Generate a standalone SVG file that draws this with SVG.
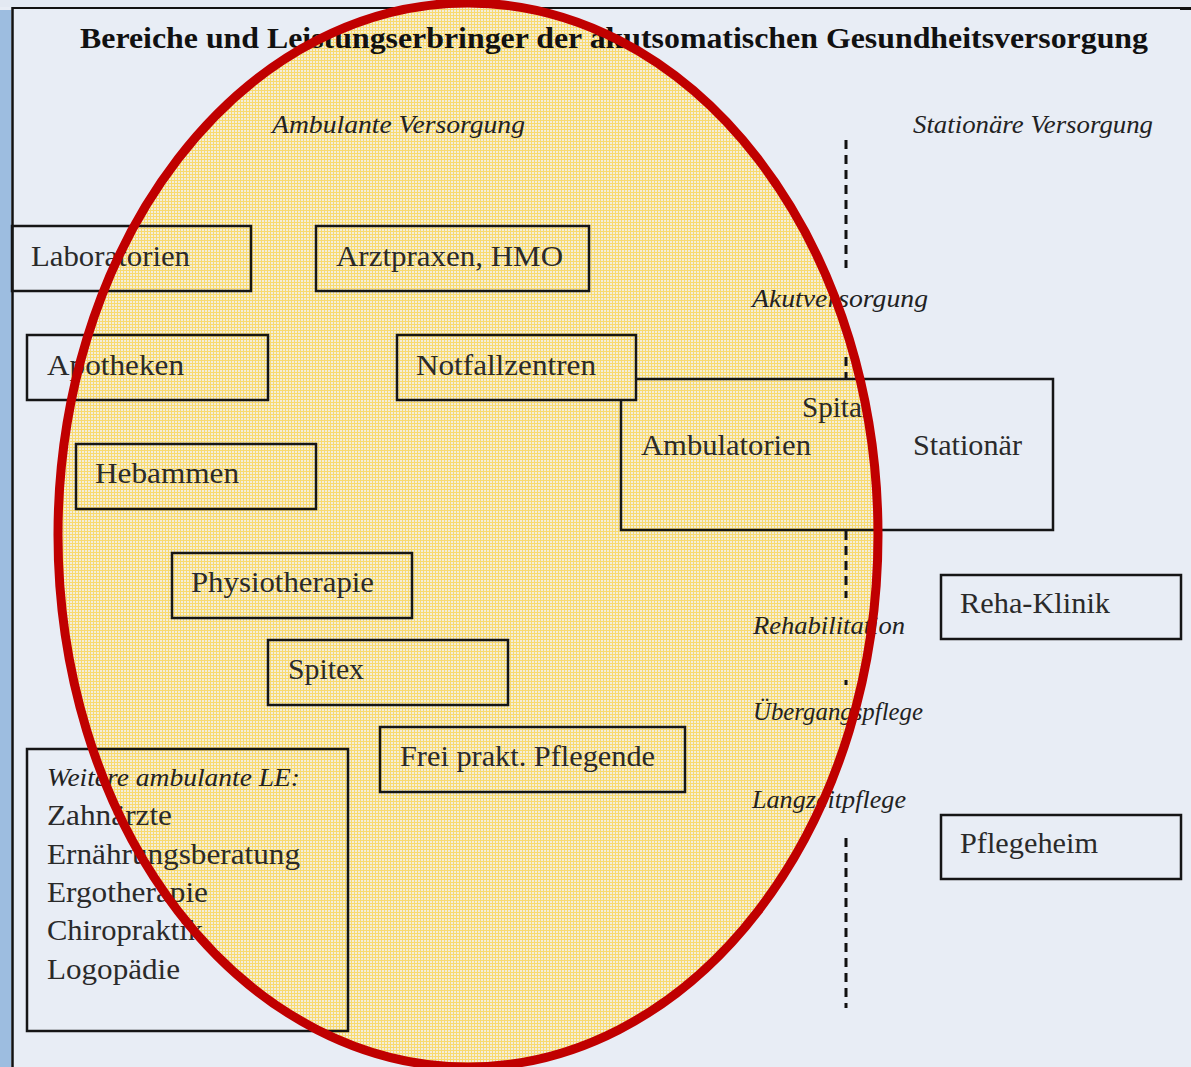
<svg xmlns="http://www.w3.org/2000/svg" width="1191" height="1067" viewBox="0 0 1191 1067">
<style>
.box{fill:none;stroke:#151515;stroke-width:2.5}
.t{font-family:'Liberation Serif','DejaVu Serif',serif;font-size:29px;fill:#2a2a2a}
.i{font-family:'Liberation Serif','DejaVu Serif',serif;font-style:italic;font-size:26px;fill:#222}
.title{font-family:'Liberation Serif','DejaVu Serif',serif;font-weight:bold;font-size:29px;fill:#111}
.dash{stroke:#111;stroke-width:3;stroke-dasharray:9 6;fill:none}
</style>
<defs>
<pattern id="grid" width="3" height="3" patternUnits="userSpaceOnUse">
<rect width="3" height="3" fill="#f3eedc"/>
<path d="M0,0.5H3M0.5,0V3" stroke="#f8da70" stroke-width="1"/>
</pattern>
</defs>
<rect width="1191" height="1067" fill="#e8edf5"/>
<rect width="1191" height="7" fill="#e3e9f2"/>
<rect x="0" y="10" width="11" height="1057" fill="#9dbde0"/>
<line x1="12" y1="8" x2="1180" y2="8" stroke="#111" stroke-width="2"/>
<line x1="1180" y1="8.5" x2="1191" y2="8.5" stroke="#111" stroke-width="3"/>
<line x1="12.5" y1="7" x2="12.5" y2="1067" stroke="#111" stroke-width="2.5"/>
<ellipse id="ellipse-fill" cx="468" cy="535" rx="410" ry="532" fill="url(#grid)"/>
<text class="title" x="80" y="48" textLength="1068" lengthAdjust="spacingAndGlyphs">Bereiche und Leistungserbringer der akutsomatischen Gesundheitsversorgung</text>
<text class="i" x="272" y="133" textLength="253" lengthAdjust="spacingAndGlyphs">Ambulante Versorgung</text>
<text class="i" x="913" y="133" textLength="240" lengthAdjust="spacingAndGlyphs">Stationäre Versorgung</text>
<g id="connectors">
<path class="dash" d="M846,140V268M846,357V378M846,531V598M846,680V685M846,838V1008"/>
</g>
<g id="section-labels">
<text class="i" x="752" y="307" textLength="176" lengthAdjust="spacingAndGlyphs">Akutversorgung</text>
<text class="i" x="753" y="634" textLength="152" lengthAdjust="spacingAndGlyphs">Rehabilitation</text>
<text class="i" x="753" y="720" textLength="170" lengthAdjust="spacingAndGlyphs">Übergangspflege</text>
<text class="i" x="752" y="808" textLength="154" lengthAdjust="spacingAndGlyphs">Langzeitpflege</text>
</g>
<g id="laboratorien"><rect class="box" x="12" y="226" width="239" height="65"/><text class="t" x="31" y="266" textLength="159" lengthAdjust="spacingAndGlyphs">Laboratorien</text></g>
<g id="arztpraxen"><rect class="box" x="316" y="226" width="273" height="65"/><text class="t" x="336" y="266" textLength="227" lengthAdjust="spacingAndGlyphs">Arztpraxen, HMO</text></g>
<g id="apotheken"><rect class="box" x="27" y="335" width="241" height="65"/><text class="t" x="47" y="375" textLength="137" lengthAdjust="spacingAndGlyphs">Apotheken</text></g>
<g id="spital"><path class="box" d="M636,379H1053V530H621V400"/>
<text class="t" x="802" y="417" textLength="68" lengthAdjust="spacingAndGlyphs">Spital</text>
<text class="t" x="641" y="455" textLength="170" lengthAdjust="spacingAndGlyphs">Ambulatorien</text>
<text class="t" x="913" y="455" textLength="109" lengthAdjust="spacingAndGlyphs">Stationär</text></g>
<g id="notfallzentren"><rect class="box" x="397" y="335" width="239" height="65"/><text class="t" x="416" y="375" textLength="180" lengthAdjust="spacingAndGlyphs">Notfallzentren</text></g>
<g id="hebammen"><rect class="box" x="76" y="444" width="240" height="65"/><text class="t" x="95" y="483" textLength="144" lengthAdjust="spacingAndGlyphs">Hebammen</text></g>
<g id="physiotherapie"><rect class="box" x="172" y="553" width="240" height="65"/><text class="t" x="191" y="592" textLength="183" lengthAdjust="spacingAndGlyphs">Physiotherapie</text></g>
<g id="spitex"><rect class="box" x="268" y="640" width="240" height="65"/><text class="t" x="288" y="679" textLength="76" lengthAdjust="spacingAndGlyphs">Spitex</text></g>
<g id="pflegende"><rect class="box" x="380" y="727" width="305" height="65"/><text class="t" x="400" y="766" textLength="255" lengthAdjust="spacingAndGlyphs">Frei prakt. Pflegende</text></g>
<g id="weitere"><rect class="box" x="27" y="749" width="321" height="282"/>
<text class="i" x="47" y="786" textLength="253" lengthAdjust="spacingAndGlyphs">Weitere ambulante LE:</text>
<text class="t" x="47" y="825" textLength="125" lengthAdjust="spacingAndGlyphs">Zahnärzte</text>
<text class="t" x="47" y="864" textLength="253" lengthAdjust="spacingAndGlyphs">Ernährungsberatung</text>
<text class="t" x="47" y="902" textLength="161" lengthAdjust="spacingAndGlyphs">Ergotherapie</text>
<text class="t" x="47" y="940" textLength="156" lengthAdjust="spacingAndGlyphs">Chiropraktik</text>
<text class="t" x="47" y="979" textLength="133" lengthAdjust="spacingAndGlyphs">Logopädie</text></g>
<g id="reha"><rect class="box" x="941" y="575" width="240" height="64"/><text class="t" x="960" y="613" textLength="150" lengthAdjust="spacingAndGlyphs">Reha-Klinik</text></g>
<g id="pflegeheim"><rect class="box" x="941" y="815" width="240" height="64"/><text class="t" x="960" y="853" textLength="138" lengthAdjust="spacingAndGlyphs">Pflegeheim</text></g>
<ellipse id="ellipse-outline" cx="468" cy="535" rx="410" ry="532" fill="none" stroke="#c00000" stroke-width="9"/>
</svg>
